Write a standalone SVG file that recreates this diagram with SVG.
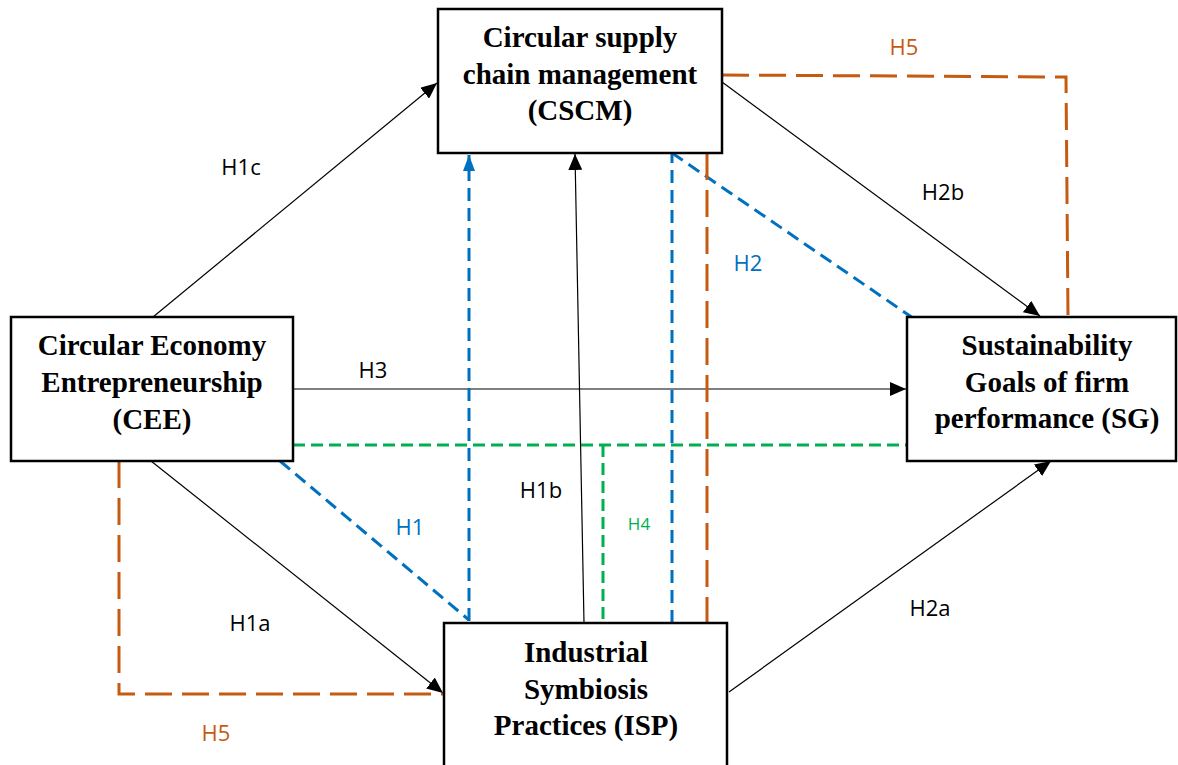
<svg xmlns="http://www.w3.org/2000/svg" width="1178" height="765" viewBox="0 0 1178 765">
<style>
.box{fill:#fff;stroke:#000;stroke-width:2.5}
.nt{font-family:"Liberation Serif","Times New Roman",serif;font-weight:bold;font-size:29px;text-anchor:middle;fill:#000}
.lb{font-family:"Open Sans","Liberation Sans",sans-serif;font-size:22px;text-anchor:middle}
.solid{stroke:#000;stroke-width:1.2;fill:none}
.blue{stroke:#0070C0;stroke-width:3;fill:none;stroke-dasharray:13 7}
.orange{stroke:#C55A11;stroke-width:3;fill:none;stroke-dasharray:27 10}
.green{stroke:#00B050;stroke-width:3;fill:none;stroke-dasharray:12 6}
</style>
<defs>
<marker id="ab" markerUnits="userSpaceOnUse" markerWidth="16" markerHeight="14" refX="16" refY="7" orient="auto"><path d="M0,0 L16,7 L0,14 z" fill="#000"/></marker>
<marker id="abl" markerUnits="userSpaceOnUse" markerWidth="16" markerHeight="12" refX="16" refY="6" orient="auto"><path d="M0,0 L16,6 L0,12 z" fill="#0070C0"/></marker>
</defs>
<rect width="1178" height="765" fill="#fff"/>
<g id="connectors">
<line class="solid" x1="153" y1="317" x2="437" y2="83" marker-end="url(#ab)"/>
<line class="solid" x1="293" y1="389" x2="906" y2="389" marker-end="url(#ab)"/>
<line class="solid" x1="151" y1="461" x2="443" y2="693" marker-end="url(#ab)"/>
<line class="solid" x1="584" y1="623" x2="575" y2="154" marker-end="url(#ab)"/>
<line class="solid" x1="722" y1="82" x2="1040" y2="316" marker-end="url(#ab)"/>
<line class="solid" x1="729" y1="692" x2="1051" y2="461" marker-end="url(#ab)"/>
<line class="blue" x1="469" y1="621" x2="469" y2="155" marker-end="url(#abl)"/>
<line class="blue" x1="280" y1="461" x2="469" y2="620"/>
<line class="blue" x1="672" y1="623" x2="672" y2="153"/>
<line class="blue" x1="672" y1="153" x2="913" y2="318"/>
<polyline class="orange" points="722,75 1066,77 1068,317"/>
<line class="orange" x1="707" y1="153" x2="707" y2="623"/>
<polyline class="orange" points="119,461 119,694 447,694"/>
<line class="green" x1="293" y1="445" x2="907" y2="445"/>
<line class="green" x1="603" y1="445" x2="603" y2="623"/>
<text class="lb" x="241" y="175" fill="#000">H1c</text>
<text class="lb" x="904" y="55" fill="#C55A11">H5</text>
<text class="lb" x="943" y="200" fill="#000">H2b</text>
<text class="lb" x="748" y="271" fill="#0070C0">H2</text>
<text class="lb" x="373" y="378" fill="#000">H3</text>
<text class="lb" x="541" y="498" fill="#000">H1b</text>
<text class="lb" x="410" y="535" fill="#0070C0">H1</text>
<text class="lb" x="639" y="530" fill="#00B050" style="font-size:17px">H4</text>
<text class="lb" x="250" y="631" fill="#000">H1a</text>
<text class="lb" x="930" y="616" fill="#000">H2a</text>
<text class="lb" x="216" y="741" fill="#C55A11">H5</text>
</g>
<g id="cscm">
<rect class="box" x="438" y="9" width="284" height="144"/>
<text class="nt" x="580" y="47">Circular supply</text>
<text class="nt" x="580" y="84">chain management</text>
<text class="nt" x="580" y="120">(CSCM)</text>
</g>
<g id="cee">
<rect class="box" x="11" y="317" width="282" height="144"/>
<text class="nt" x="152" y="355">Circular Economy</text>
<text class="nt" x="152" y="392">Entrepreneurship</text>
<text class="nt" x="152" y="429">(CEE)</text>
</g>
<g id="sg">
<rect class="box" x="907" y="317" width="269" height="144"/>
<text class="nt" x="1047" y="355">Sustainability</text>
<text class="nt" x="1047" y="392">Goals of firm</text>
<text class="nt" x="1047" y="428">performance (SG)</text>
</g>
<g id="isp">
<rect class="box" x="444" y="623" width="283" height="160"/>
<text class="nt" x="586" y="662">Industrial</text>
<text class="nt" x="586" y="699">Symbiosis</text>
<text class="nt" x="586" y="735">Practices (ISP)</text>
</g>
</svg>
